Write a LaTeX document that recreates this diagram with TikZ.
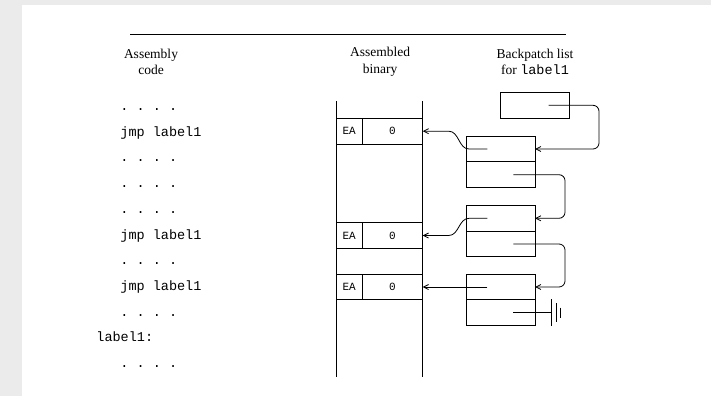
\documentclass[tikz,border=0pt]{standalone}
\usepackage{fontspec}
\setmainfont{Liberation Serif}
\setmonofont{Liberation Mono}
\usetikzlibrary{arrows.meta, positioning}
\definecolor{pagegray}{HTML}{EBEBEB}

\begin{document}
\begin{tikzpicture}[x=1pt, y=-1pt, line width=0.8pt, node distance=0pt,
  every node/.style={font=\fontsize{13.5}{16.5}\selectfont},
  asm/.style={anchor=base west, inner sep=0pt, font=\ttfamily\fontsize{13.5}{16}\selectfont},
  word/.style={draw, minimum height=25.7pt, inner sep=0pt, outer sep=0pt, font=\ttfamily\fontsize{11}{13}\selectfont},
  cell/.style={draw, minimum width=69pt, minimum height=25.7pt, inner sep=0pt, outer sep=0pt},
  ptr/.style={-{Straight Barb[length=5pt, width=5pt]}},
  link/.style={ptr, rounded corners=6pt}]
% page
\fill[pagegray] (0,0) rectangle (711,396);
\fill[white] (22,5) rectangle (711,396);
\useasboundingbox (0,0) rectangle (711,396);
\draw (130,34) -- (566,34);

% column heads
\node[align=center] (hcode) at (151,62) {Assembly\\code};
\node[align=center] (hbin) at (380,62) {Assembled\\binary};
\node[align=center] (hlist) at (535,62) {Backpatch list\\for \texttt{label1}};

% assembly code
\node[asm] (ln1) at (120,110.5) {. . . .};
\node[asm] (ln2) at (120,136.2) {jmp label1};
\node[asm] (ln3) at (120,161.9) {. . . .};
\node[asm] (ln4) at (120,187.6) {. . . .};
\node[asm] (ln5) at (120,213.3) {. . . .};
\node[asm] (ln6) at (120,239) {jmp label1};
\node[asm] (ln7) at (120,264.7) {. . . .};
\node[asm] (ln8) at (120,290.4) {jmp label1};
\node[asm] (ln9) at (120,316.1) {. . . .};
\node[asm] (ln10) at (96,341.8) {label1:};
\node[asm] (ln11) at (120,367.5) {. . . .};

% assembled binary
\draw (336,101) -- (336,377);
\draw (422.7,101) -- (422.7,377);
\node[word, minimum width=26.3pt] (ea1) at (349.15,131.2) {EA};
\node[word, minimum width=60.4pt, right=of ea1] (v1) {0};
\node[word, minimum width=26.3pt] (ea2) at (349.15,235.5) {EA};
\node[word, minimum width=60.4pt, right=of ea2] (v2) {0};
\node[word, minimum width=26.3pt] (ea3) at (349.15,287) {EA};
\node[word, minimum width=60.4pt, right=of ea3] (v3) {0};

% backpatch list
\node[cell] (hd) at (534.7,105.3) {};
\node[cell] (n1t) at (500.5,149) {};
\node[cell, below=of n1t] (n1b) {};
\node[cell] (n2t) at (500.5,218.3) {};
\node[cell, below=of n2t] (n2b) {};
\node[cell] (n3t) at (500.5,287) {};
\node[cell, below=of n3t] (n3b) {};

\draw[link] ([xshift=-20.7pt]hd.east) -| ([xshift=64pt]n1t.east) -- (n1t.east);
\draw[link] ([xshift=-21.7pt]n1b.east) -| ([xshift=30pt]n2t.east) -- (n2t.east);
\draw[link] ([xshift=-21.7pt]n2b.east) -| ([xshift=30pt]n3t.east) -- (n3t.east);

\draw[ptr] ([xshift=21.3pt]n1t.west) -- ([xshift=3pt]n1t.west) to[out=180, in=0] ([xshift=26pt]v1.east) -- (v1.east);
\draw[ptr] ([xshift=21.3pt]n2t.west) -- ([xshift=3pt]n2t.west) to[out=180, in=0] ([xshift=26pt]v2.east) -- (v2.east);
\draw[ptr] ([xshift=21.3pt]n3t.west) -- (v3.east);

% nil pointer
\coordinate (gnd) at ([xshift=16.7pt]n3b.east);
\draw ([xshift=-21.7pt]n3b.east) -- (gnd);
\draw ([yshift=13.3pt]gnd) -- ([yshift=-13.3pt]gnd)
      ([xshift=5pt, yshift=9.3pt]gnd) -- ([xshift=5pt, yshift=-9.3pt]gnd)
      ([xshift=9pt, yshift=5.2pt]gnd) -- ([xshift=9pt, yshift=-5.2pt]gnd);
\end{tikzpicture}
\end{document}
